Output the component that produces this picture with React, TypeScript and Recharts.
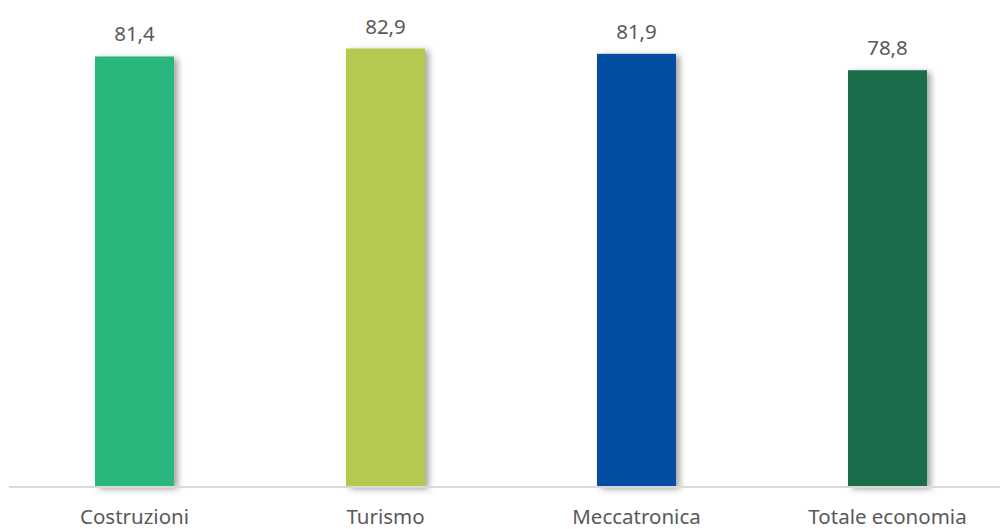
import { Bar, BarChart, Cell, LabelList, XAxis, YAxis } from "recharts";

const categories = ["Costruzioni", "Turismo", "Meccatronica", "Totale economia"];
const values = [81.4, 82.9, 81.9, 78.8];
const colors = ["#29B67A", "#B5C84F", "#034EA2", "#1A6C4A"];

const data = categories.map((name, i) => ({ name, value: values[i] }));

const fmt = (v: any) => String(v).replace(".", ",");

const ShadowBar = (props: any) => {
  const { x, y, width, height, fill } = props;
  return (
    <rect
      x={x}
      y={y}
      width={width}
      height={height}
      fill={fill}
      style={{ filter: "drop-shadow(4px 2px 3px rgba(0,0,0,0.35))" }}
    />
  );
};

export default function App() {
  return (
    <div
      style={{
        position: "absolute",
        left: 0,
        top: 0,
        width: 1000,
        height: 529,
        overflow: "hidden",
        background: "#fff",
        fontFamily: "'Noto Sans', sans-serif",
      }}
    >
      <BarChart
        width={1013}
        height={529}
        data={data}
        margin={{ top: 11, right: 0, bottom: 0, left: 9 }}
      >
        <XAxis
          dataKey="name"
          height={42}
          axisLine={{ stroke: "#d9d9d9", strokeWidth: 2 }}
          tickLine={false}
          tickMargin={16}
          tick={{ fill: "#595959", fontSize: 20.5 }}
        />
        <YAxis hide domain={[0, 90]} />
        <Bar dataKey="value" barSize={79} shape={<ShadowBar />} isAnimationActive={false}>
          {data.map((d, i) => (
            <Cell key={d.name} fill={colors[i]} />
          ))}
          <LabelList
            dataKey="value"
            position="top"
            offset={15}
            formatter={fmt}
            style={{ fill: "#595959", fontSize: 20.5 }}
          />
        </Bar>
      </BarChart>
    </div>
  );
}
